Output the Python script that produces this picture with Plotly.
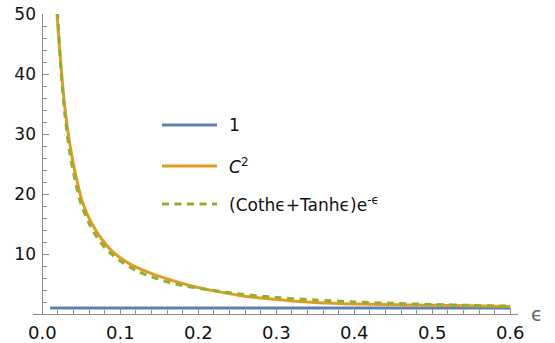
import plotly.graph_objects as go

# ---- data ----
eps_one = [0.01, 0.6]
val_one = [1, 1]

eps_c2 = [0.0180, 0.0188, 0.024, 0.0288, 0.035, 0.042, 0.0503, 0.058, 0.0651,
          0.0759, 0.0908, 0.112, 0.1336, 0.1635, 0.189, 0.22, 0.253, 0.29,
          0.33, 0.381, 0.42, 0.467, 0.53, 0.6]
val_c2 = [52.3, 50.0, 41.2, 34.5, 28.5, 23.6, 19.1, 16.5, 14.7,
          12.5, 10.3, 8.35, 7.05, 5.7, 4.75, 3.85, 3.1, 2.55,
          2.1, 1.75, 1.63, 1.52, 1.4, 1.27]

eps_ct = [0.0185, 0.024, 0.0288, 0.035, 0.042, 0.05, 0.06, 0.07, 0.08, 0.09,
          0.1, 0.12, 0.14, 0.16, 0.18, 0.2, 0.25, 0.3, 0.35, 0.4, 0.45, 0.5,
          0.55, 0.6]
val_ct = [52.5, 40.4, 33.4, 27.0, 22.3, 18.2, 15.1, 12.8, 11.1, 9.85,
          8.85, 7.25, 6.2, 5.35, 4.75, 4.3, 3.37, 2.76, 2.33, 2.02, 1.78, 1.59,
          1.44, 1.32]

x_ticks = [0.0, 0.1, 0.2, 0.3, 0.4, 0.5, 0.6]
x_ticktext = ["0.0", "0.1", "0.2", "0.3", "0.4", "0.5", "0.6"]
y_ticks = [10, 20, 30, 40, 50]
y_ticktext = ["10", "20", "30", "40", "50"]

legend_names = ["1", "<i>C</i><sup>2</sup>", "(Coth\u03f5+Tanh\u03f5)e<sup>-\u03f5</sup>"]

BLUE = "#5E81B5"
ORANGE = "#E19C24"
GREEN = "#8FB032"
AXIS = "#8c8c8c"
TXT = "#111"
FONT = "DejaVu Sans"

fig = go.Figure()
fig.add_trace(go.Scatter(x=eps_one, y=val_one, mode="lines",
                         line=dict(color=BLUE, width=3), showlegend=False))
fig.add_trace(go.Scatter(x=eps_c2, y=val_c2, mode="lines",
                         line=dict(color=ORANGE, width=3, shape="spline", smoothing=0.8),
                         showlegend=False))
fig.add_trace(go.Scatter(x=eps_ct, y=val_ct, mode="lines",
                         line=dict(color=GREEN, width=3, dash="7px,5.5px",
                                   shape="spline", smoothing=0.8),
                         showlegend=False))

L, R, T, B = 33, 37, 14, 29
W, H = 555, 343
xr = [-0.012, 0.61]

fig.update_layout(
    width=W, height=H,
    margin=dict(l=L, r=R, t=T, b=B),
    paper_bgcolor="white", plot_bgcolor="white",
    font=dict(family=FONT, color=TXT),
    xaxis=dict(range=xr, showgrid=False, zeroline=False, automargin=False,
               showline=True, linecolor=AXIS, linewidth=1,
               ticks="inside", ticklen=6, tickcolor=AXIS, tickwidth=1,
               tickvals=x_ticks, ticktext=x_ticktext,
               tickfont=dict(size=18, family=FONT, color=TXT),
               ticklabelstandoff=2,
               minor=dict(dtick=0.02, tick0=0, ticks="inside", ticklen=4,
                          tickcolor=AXIS, tickwidth=1, showgrid=False)),
    yaxis=dict(range=[0, 50], showgrid=False, zeroline=False, automargin=False,
               anchor="free", position=(0 - xr[0]) / (xr[1] - xr[0]),
               showline=True, linecolor=AXIS, linewidth=1,
               ticks="inside", ticklen=6, tickcolor=AXIS, tickwidth=1,
               tickvals=y_ticks, ticktext=y_ticktext,
               tickfont=dict(size=17, family=FONT, color=TXT),
               ticklabelstandoff=3,
               minor=dict(dtick=2, tick0=0, ticks="inside", ticklen=4,
                          tickcolor=AXIS, tickwidth=1, showgrid=False)),
)

pw = W - L - R
ph = H - T - B
def px_x(p):
    return (p - L) / pw
def px_y(p):
    return (H - B - p) / ph

# axis label
fig.add_annotation(x=px_x(536.7), y=px_y(314), xref="paper", yref="paper",
                   text="\u03f5", showarrow=False,
                   font=dict(size=19, family=FONT, color="#666"),
                   xanchor="center", yanchor="middle")

# legend drawn manually
rows = [125, 166, 204]
styles = [dict(color=BLUE, width=3), dict(color=ORANGE, width=3),
          dict(color=GREEN, width=3, dash="7px,5.5px")]
for ry, st, name in zip(rows, styles, legend_names):
    fig.add_shape(type="line", xref="paper", yref="paper",
                  x0=px_x(162), x1=px_x(217), y0=px_y(ry), y1=px_y(ry), line=st)
    fig.add_annotation(x=px_x(227), y=px_y(ry), xref="paper", yref="paper",
                       text=name, showarrow=False, xanchor="left", yanchor="middle",
                       font=dict(size=17, family=FONT, color=TXT))

fig.write_html("out.html")
